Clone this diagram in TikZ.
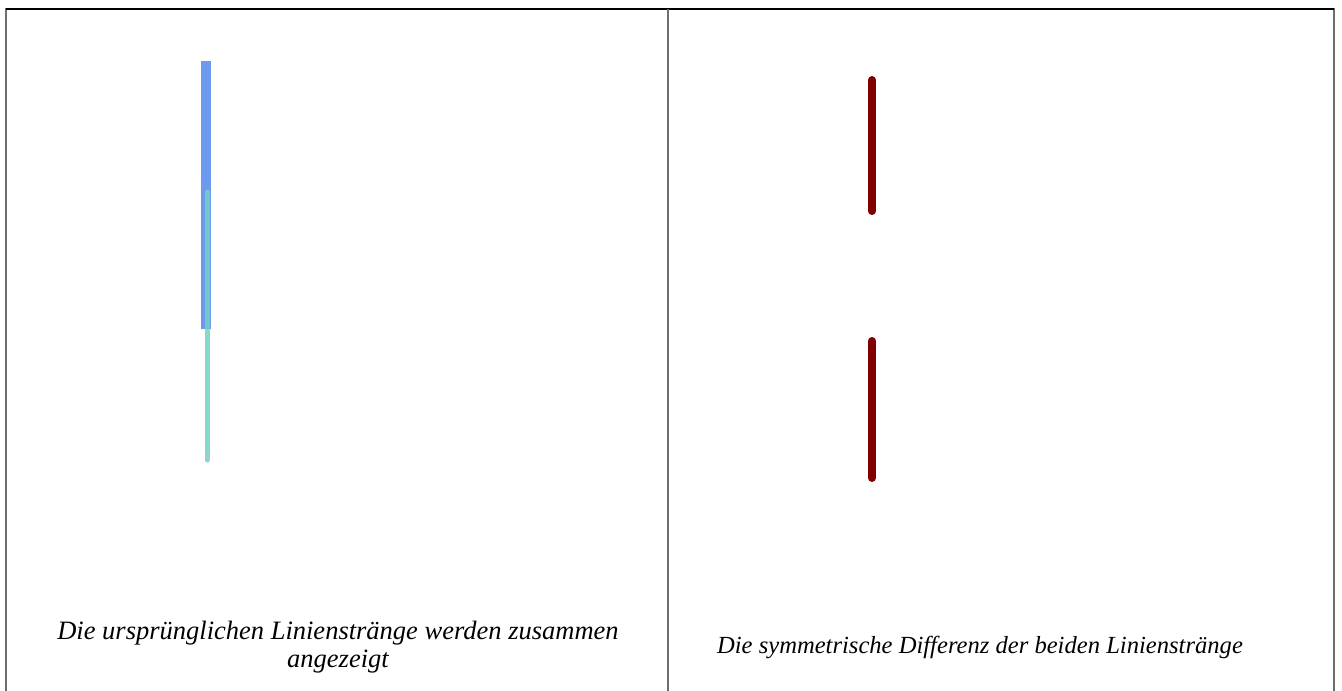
\documentclass[tikz,border=0pt]{standalone}
\usepackage{fontspec}
\setmainfont{Liberation Serif}
\usepackage{tikz}
\usetikzlibrary{positioning}
\definecolor{framegray}{RGB}{110,110,110}
\definecolor{lineblue}{RGB}{100,149,237}
\definecolor{linegreen}{RGB}{118,208,194}
\definecolor{diffred}{RGB}{128,0,0}
\tikzset{
  frame/.style={line width=1.5pt, color=framegray},
  strandA/.style={line width=10pt, color=lineblue, opacity=0.95},
  strandB/.style={line width=5pt, color=linegreen, opacity=0.85, line cap=round},
  diff/.style={line width=8pt, color=diffred, line cap=round},
  caption/.style={font=\itshape, align=center, inner sep=0pt}
}
\begin{document}
\begin{tikzpicture}[x=1pt, y=-1pt]
  \useasboundingbox (0,0) rectangle (1342,691);
  % panel frame
  \draw[frame] (6,691) -- (6,9) -- (1334,9) -- (1334,691);
  \draw[frame, color=black] (6,9) -- (1334,9);
  \draw[frame] (668,9) -- (668,691);

  % left panel: both line strings
  \coordinate (a1) at (206,61);
  \coordinate (a2) at (206,329);
  \coordinate (b1) at (207,192);
  \coordinate (b2) at (207,460);
  \draw[strandA] (a1) -- (a2);
  \draw[strandB] (b1) -- (b2);
  \node[caption, font=\fontsize{26.5}{28}\selectfont\itshape] (capA) at (338,647)
    {Die ursprünglichen Linienstränge werden zusammen\\angezeigt};

  % right panel: symmetric difference
  \coordinate (d1) at (872,80);
  \coordinate (d2) at (872,211);
  \coordinate (d3) at (872,341);
  \coordinate (d4) at (872,478);
  \draw[diff] (d1) -- (d2);
  \draw[diff] (d3) -- (d4);
  \node[caption, font=\fontsize{24.6}{28}\selectfont\itshape, anchor=base] (capB) at (980,653)
    {Die symmetrische Differenz der beiden Linienstränge};
\end{tikzpicture}
\end{document}
